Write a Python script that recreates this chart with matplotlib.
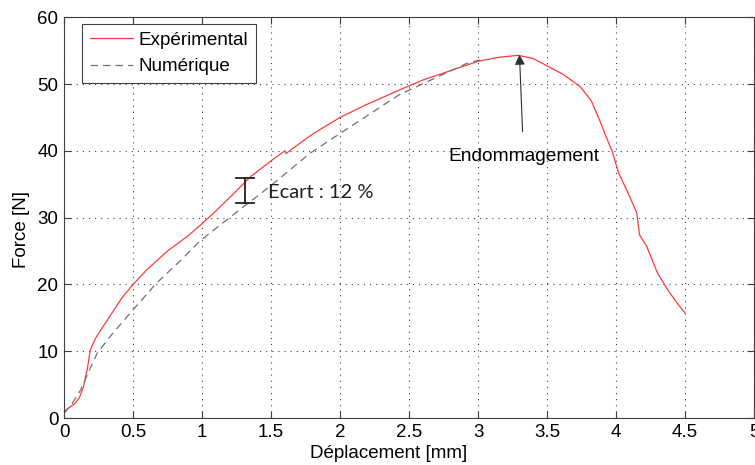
import matplotlib.pyplot as plt

x_exp = [0.0, 0.04, 0.08, 0.11, 0.14, 0.17, 0.19, 0.23, 0.28, 0.35, 0.42, 0.5, 0.6, 0.75, 0.9,
         0.99, 1.1, 1.2, 1.35, 1.5, 1.6, 1.61, 1.64, 1.8, 2.0, 2.2, 2.43, 2.6, 2.8, 3.0, 3.15,
         3.29, 3.4, 3.52, 3.62, 3.74, 3.82, 3.88, 3.93, 3.97, 4.02, 4.08, 4.15, 4.16, 4.17,
         4.22, 4.30, 4.38, 4.45, 4.50]
y_exp = [1.0, 1.6, 2.2, 3.0, 4.6, 7.5, 10.2, 12.0, 13.6, 15.8, 18.0, 20.0, 22.2, 25.0, 27.3,
         28.9, 31.0, 33.0, 36.1, 38.5, 40.0, 39.6, 40.1, 42.5, 45.0, 47.0, 49.1, 50.6, 52.0, 53.4, 54.0,
         54.3, 53.8, 52.5, 51.4, 49.6, 47.5, 44.6, 42.0, 40.0, 36.6, 34.0, 30.7, 29.0, 27.4,
         25.8, 21.7, 19.0, 17.0, 15.7]

# courbe numerique
x_num = [0.0, 0.06, 0.12, 0.18, 0.24, 0.35, 0.5, 0.67, 0.85, 0.99, 1.15, 1.3, 1.5, 1.78,
         2.0, 2.2, 2.43, 2.7, 2.92, 3.05]
y_num = [0.7, 2.2, 4.2, 7.0, 9.7, 12.6, 16.2, 20.2, 23.7, 26.6, 29.2, 31.6, 34.8, 39.6,
         42.6, 45.3, 48.4, 51.0, 53.1, 53.8]

ecart_x = 1.31
ecart_y = [32.2, 35.9]

plt.rcParams['font.family'] = ['Liberation Sans', 'DejaVu Sans']

fig = plt.figure(figsize=(7.55, 4.65), dpi=100)
ax = fig.add_axes([0.0848, 0.101, 0.914, 0.862])

ax.plot(x_exp, y_exp, color='#ff3a3a', lw=0.9, label='Expérimental')
ax.plot(x_num, y_num, color='#707070', lw=0.9, ls=(0, (6, 4)), label='Numérique')

# barre d'ecart
ax.plot([ecart_x, ecart_x], ecart_y, color='#202020', lw=1.3)
for yy in ecart_y:
    ax.plot([ecart_x - 0.065, ecart_x + 0.065], [yy, yy], color='#202020', lw=1.3)
ax.text(1.478, 33.8, 'Ecart : 12 %', fontsize=14.5, family=['Lato', 'DejaVu Sans'],
        va='center', ha='left', color='#202020')

ax.annotate('Endommagement', xy=(3.30, 54.4), xytext=(3.33, 39.1),
            ha='center', va='center', fontsize=13.8,
            arrowprops=dict(arrowstyle='-|>', color='#303030', lw=0.8,
                            shrinkA=10, shrinkB=0, mutation_scale=15))

ax.set_xlim(0, 5)
ax.set_ylim(0, 60)
ax.set_xticks([0, 0.5, 1, 1.5, 2, 2.5, 3, 3.5, 4, 4.5, 5])
ax.set_xticklabels(['0', '0.5', '1', '1.5', '2', '2.5', '3', '3.5', '4', '4.5', '5'])
ax.set_yticks([0, 10, 20, 30, 40, 50, 60])
ax.tick_params(direction='in', top=True, right=True, labelsize=13.5, length=5,
               color='#404040', pad=4)
ax.grid(True, ls=(0, (1, 4.5)), color='#404040', lw=0.8)
for s in ax.spines.values():
    s.set_color('#404040')

ax.set_xlabel('Déplacement [mm]', fontsize=13.5)
ax.set_ylabel('Force [N]', fontsize=13.5)
ax.xaxis.set_label_coords(0.47, -0.068)
ax.yaxis.set_label_coords(-0.049, 0.47)

leg = ax.legend(loc='upper left', bbox_to_anchor=(0.026, 0.983), fontsize=13.6,
                fancybox=False, framealpha=1, edgecolor='#404040',
                handlelength=2.3, handletextpad=0.3, borderpad=0.4,
                labelspacing=0.5, borderaxespad=0)
leg.get_frame().set_linewidth(0.8)

fig.savefig('out.png', dpi=100)
